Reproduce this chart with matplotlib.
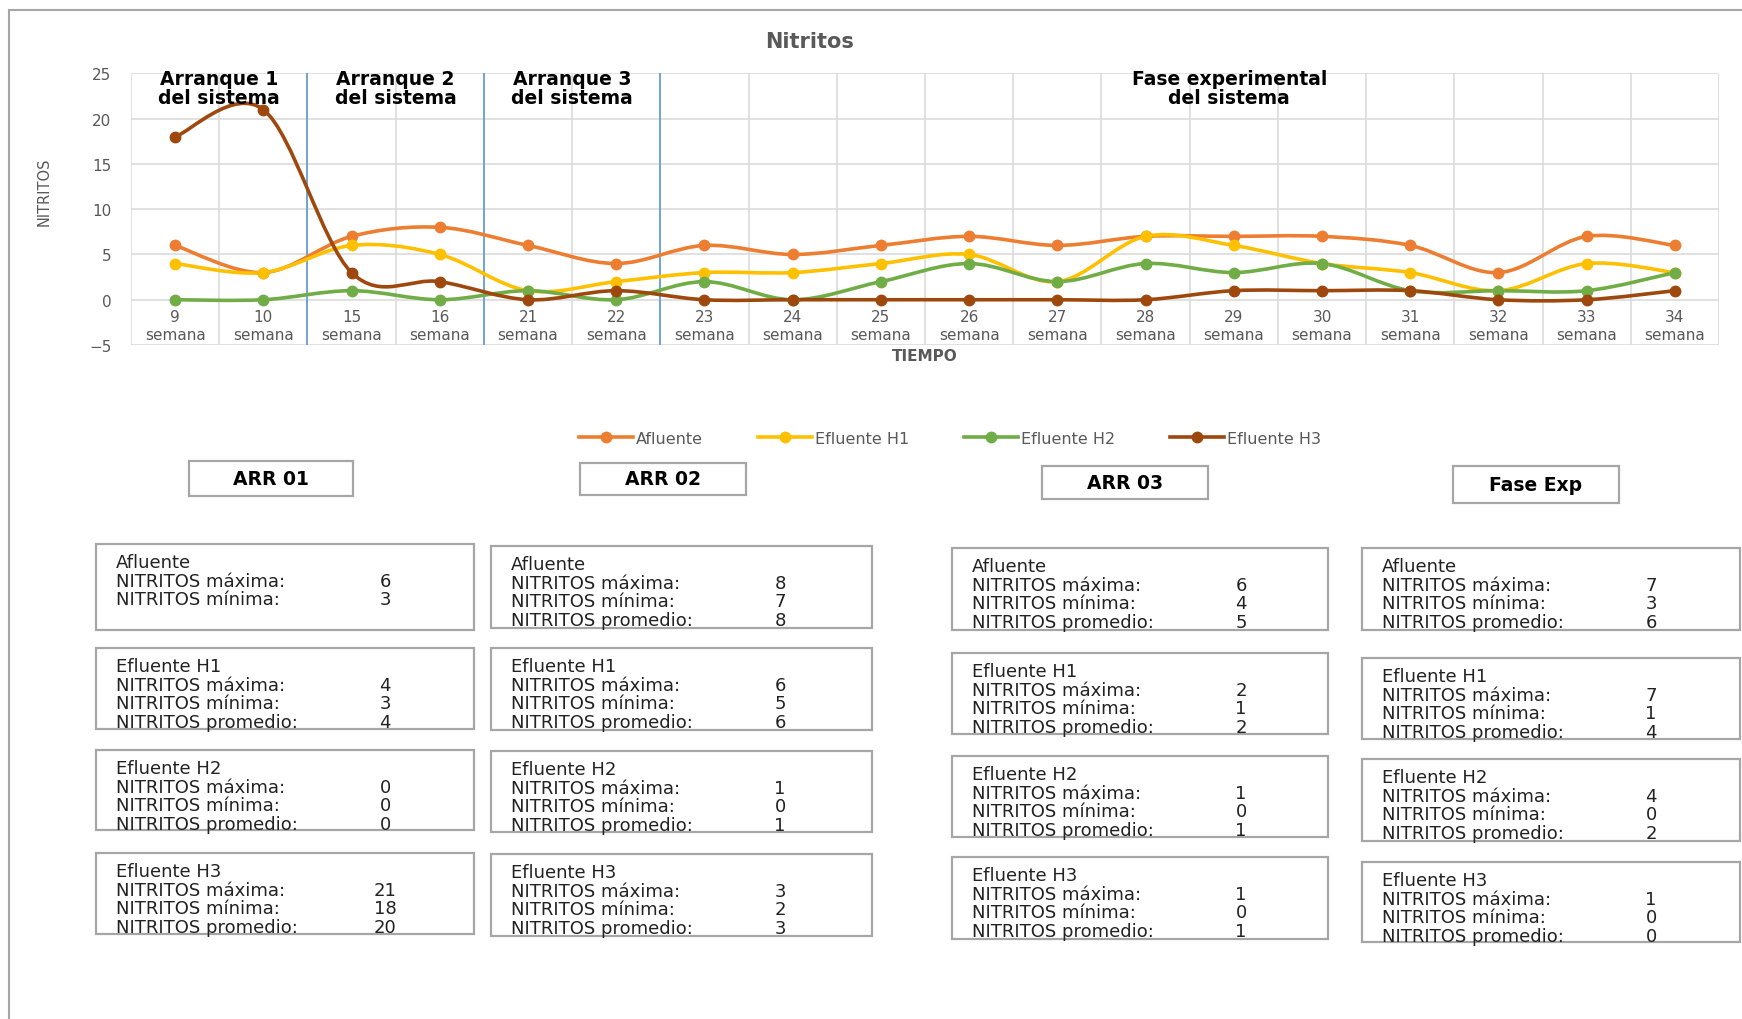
import numpy as np
import matplotlib.pyplot as plt
from matplotlib.path import Path
from matplotlib.patches import PathPatch, Rectangle
from matplotlib.lines import Line2D

# weekly nitrite readings (mg/L) per sampling point
semanas = ['9', '10', '15', '16', '21', '22', '23', '24', '25',
           '26', '27', '28', '29', '30', '31', '32', '33', '34']
afluente = [6, 3, 7, 8, 6, 4, 6, 5, 6, 7, 6, 7, 7, 7, 6, 3, 7, 6]
efluente_h1 = [4, 3, 6, 5, 1, 2, 3, 3, 4, 5, 2, 7, 6, 4, 3, 1, 4, 3]
efluente_h2 = [0, 0, 1, 0, 1, 0, 2, 0, 2, 4, 2, 4, 3, 4, 1, 1, 1, 3]
efluente_h3 = [18, 21, 3, 2, 0, 1, 0, 0, 0, 0, 0, 0, 1, 1, 1, 0, 0, 1]

series_nombres = ['Afluente', 'Efluente H1', 'Efluente H2', 'Efluente H3']
series_datos = [afluente, efluente_h1, efluente_h2, efluente_h3]
series_colores = ['#ED7D31', '#FFC000', '#70AD47', '#9E480E']

# phases of the system (index ranges over the weeks)
fases = ['ARR 01', 'ARR 02', 'ARR 03', 'Fase Exp']
fase_inicio = [0, 2, 4, 6]
fase_fin = [2, 4, 6, 18]
fase_titulos = ['Arranque 1\ndel sistema', 'Arranque 2\ndel sistema',
                'Arranque 3\ndel sistema', 'Fase experimental\ndel sistema']
sin_promedio = {('ARR 01', 'Afluente')}

W, H = 1742, 1020
GRIS = '#595959'
BORDE = '#A6A6A6'


def fx(x):
    return x / W


def fy(y):
    return 1 - y / H


def smooth_path(y):
    # excel-like smoothed line: cubic bezier through every point
    x = np.arange(len(y), dtype=float)
    pts = np.column_stack([x, np.asarray(y, dtype=float)])
    pad = np.vstack([pts[0], pts, pts[-1]])
    verts = [pts[0]]
    codes = [Path.MOVETO]
    for i in range(len(pts) - 1):
        p0, p1, p2, p3 = pad[i], pad[i + 1], pad[i + 2], pad[i + 3]
        verts += [p1 + (p2 - p0) / 6, p2 - (p3 - p1) / 6, p2]
        codes += [Path.CURVE4] * 3
    return Path(verts, codes)


def caja(fig, x0, y0, x1, y1):
    fig.add_artist(Rectangle((fx(x0), fy(y1)), fx(x1) - fx(x0), fy(y0) - fy(y1),
                             transform=fig.transFigure, fill=False,
                             edgecolor=BORDE, lw=1.6))


fig = plt.figure(figsize=(W / 100, H / 100), dpi=100)
ax = fig.add_axes([fx(131), fy(346), fx(1719) - fx(131), fy(74.4) - fy(346)])

n = len(semanas)
for datos, color in zip(series_datos, series_colores):
    ax.add_patch(PathPatch(smooth_path(datos), fill=False, edgecolor=color,
                           lw=2.6, capstyle='round', joinstyle='round', zorder=3))
    ax.plot(range(n), datos, 'o', color=color, ms=7.5, zorder=4)

for fin in fase_fin[:-1]:
    ax.axvline(fin - 0.5, color='#5B9BD5', lw=1.2, zorder=2)

for xt, titulo in zip([0.5, 2.5, 4.5, 11.95], fase_titulos):
    ax.text(xt, 23.35, titulo, ha='center', va='center', fontsize=13.5,
            fontweight='bold', linespacing=1.0, zorder=5)

ax.set_xlim(-0.5, n - 0.5)
ax.set_ylim(-5, 25)
ax.set_yticks(range(-5, 30, 5))
ax.set_xticks(range(n))
ax.set_xticklabels([f'{s}\nsemana' for s in semanas])
ax.set_xticks(np.arange(-0.5, n, 1), minor=True)
for lbl in ax.get_xticklabels():
    lbl.set_linespacing(1.05)
ax.tick_params(which='both', length=0, labelsize=11, labelcolor=GRIS)
ax.tick_params(axis='x', pad=7)
ax.tick_params(axis='y', pad=14)
ax.grid(which='major', axis='y', color='#DCDCDC', lw=1.2)
ax.grid(which='minor', axis='x', color='#DCDCDC', lw=1.2)
ax.set_axisbelow(True)
ax.spines['bottom'].set_position(('data', 0))
for s in ax.spines.values():
    s.set_visible(False)

fig.text(fx(810), fy(42), 'Nitritos', ha='center', va='center',
         fontsize=15, fontweight='bold', color=GRIS)
fig.text(fx(925), fy(357), 'TIEMPO', ha='center', va='center',
         fontsize=11, fontweight='bold', color=GRIS)
fig.text(fx(44), fy(192), 'NITRITOS', ha='center', va='center', rotation=90,
         fontsize=10.5, color=GRIS, family=['Liberation Sans Narrow', 'DejaVu Sans'])

handles = [Line2D([], [], color=c, lw=2.6, marker='o', ms=7.5) for c in series_colores]
fig.legend(handles, series_nombres, loc='center', bbox_to_anchor=(fx(950), fy(439)),
           ncol=4, frameon=False, fontsize=11.5, labelcolor=GRIS, handlelength=3.4,
           handletextpad=0.2, columnspacing=3.4, numpoints=1)

# outer frame of the chart area
fig.add_artist(Line2D([fx(9), 1], [fy(11), fy(11)], transform=fig.transFigure,
                      color=BORDE, lw=1.5))
fig.add_artist(Line2D([fx(9), fx(9)], [fy(11), 0], transform=fig.transFigure,
                      color=BORDE, lw=1.5))

# phase headers and summary boxes
cabeceras = [(189, 462, 353, 497), (580, 464, 746, 496),
             (1042, 467, 1208, 500), (1453, 467, 1619, 504)]
col_x = [(96, 474), (491, 872), (952, 1328), (1362, 1740)]
filas = [[(545, 631), (649, 730), (751, 831), (854, 935)],
         [(547, 629), (649, 731), (752, 833), (855, 937)],
         [(549, 631), (654, 735), (757, 838), (858, 940)],
         [(549, 631), (659, 740), (760, 842), (863, 943)]]

for j, fase in enumerate(fases):
    x0, y0, x1, y1 = cabeceras[j]
    caja(fig, x0, y0, x1, y1)
    fig.text(fx((x0 + x1) / 2), fy((y0 + y1) / 2), fase, ha='center',
             va='center', fontsize=13.5, fontweight='bold')

    bx0, bx1 = col_x[j]
    for k, (nombre, datos) in enumerate(zip(series_nombres, series_datos)):
        by0, by1 = filas[j][k]
        caja(fig, bx0, by0, bx1, by1)
        tramo = datos[fase_inicio[j]:fase_fin[j]]
        stats = [('máxima', max(tramo)), ('mínima', min(tramo)),
                 ('promedio', int(np.floor(np.mean(tramo) + 0.5)))]
        if (fase, nombre) in sin_promedio:
            stats = stats[:2]
        fig.text(fx(bx0 + 20), fy(by0 + 16), nombre, va='center_baseline',
                 fontsize=13, color='#222222')
        for m, (etq, val) in enumerate(stats):
            yy = by0 + 16 + 18.7 * (m + 1)
            fig.text(fx(bx0 + 20), fy(yy), f'NITRITOS {etq}:',
                     va='center_baseline', fontsize=13, color='#222222')
            fig.text(fx(bx0 + 289), fy(yy), str(val), ha='center',
                     va='center_baseline', fontsize=13, color='#222222')

fig.savefig('out.png', dpi=100)
